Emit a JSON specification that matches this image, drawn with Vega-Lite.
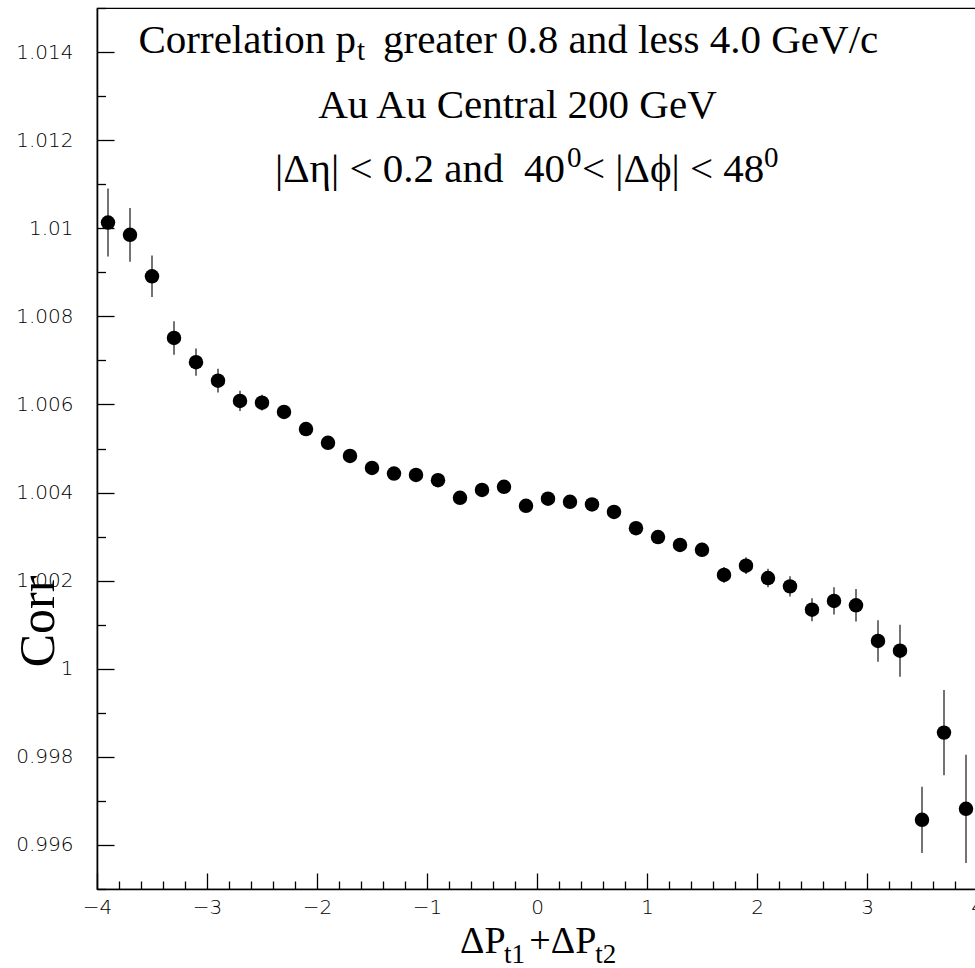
{
  "$schema": "https://vega.github.io/schema/vega-lite/v6.json",
  "autosize": {"type": "none"},
  "padding": {"left": 97, "top": 8, "right": 0, "bottom": 79},
  "width": 880,
  "height": 881,
  "background": "white",
  "config": {
    "view": {"stroke": "black", "strokeWidth": 1.2},
    "axis": {"grid": false}
  },
  "datasets": {
    "corr": [
      {"dpt": -3.9, "corr": 1.01013, "lo": 1.00936, "hi": 1.01090},
      {"dpt": -3.7, "corr": 1.00985, "lo": 1.00924, "hi": 1.01046},
      {"dpt": -3.5, "corr": 1.00891, "lo": 1.00844, "hi": 1.00938},
      {"dpt": -3.3, "corr": 1.00751, "lo": 1.00713, "hi": 1.00789},
      {"dpt": -3.1, "corr": 1.00696, "lo": 1.00665, "hi": 1.00727},
      {"dpt": -2.9, "corr": 1.00654, "lo": 1.00627, "hi": 1.00681},
      {"dpt": -2.7, "corr": 1.00608, "lo": 1.00585, "hi": 1.00631},
      {"dpt": -2.5, "corr": 1.00604, "lo": 1.00586, "hi": 1.00622},
      {"dpt": -2.3, "corr": 1.00583, "lo": 1.00567, "hi": 1.00599},
      {"dpt": -2.1, "corr": 1.00544, "lo": 1.00529, "hi": 1.00559},
      {"dpt": -1.9, "corr": 1.00513, "lo": 1.00499, "hi": 1.00527},
      {"dpt": -1.7, "corr": 1.00483, "lo": 1.00470, "hi": 1.00496},
      {"dpt": -1.5, "corr": 1.00456, "lo": 1.00444, "hi": 1.00468},
      {"dpt": -1.3, "corr": 1.00443, "lo": 1.00431, "hi": 1.00455},
      {"dpt": -1.1, "corr": 1.00440, "lo": 1.00429, "hi": 1.00451},
      {"dpt": -0.9, "corr": 1.00428, "lo": 1.00417, "hi": 1.00439},
      {"dpt": -0.7, "corr": 1.00388, "lo": 1.00377, "hi": 1.00399},
      {"dpt": -0.5, "corr": 1.00406, "lo": 1.00395, "hi": 1.00417},
      {"dpt": -0.3, "corr": 1.00413, "lo": 1.00402, "hi": 1.00424},
      {"dpt": -0.1, "corr": 1.00370, "lo": 1.00359, "hi": 1.00381},
      {"dpt": 0.1, "corr": 1.00386, "lo": 1.00375, "hi": 1.00397},
      {"dpt": 0.3, "corr": 1.00379, "lo": 1.00368, "hi": 1.00390},
      {"dpt": 0.5, "corr": 1.00373, "lo": 1.00361, "hi": 1.00385},
      {"dpt": 0.7, "corr": 1.00356, "lo": 1.00344, "hi": 1.00368},
      {"dpt": 0.9, "corr": 1.00319, "lo": 1.00306, "hi": 1.00332},
      {"dpt": 1.1, "corr": 1.00299, "lo": 1.00285, "hi": 1.00313},
      {"dpt": 1.3, "corr": 1.00281, "lo": 1.00266, "hi": 1.00296},
      {"dpt": 1.5, "corr": 1.00270, "lo": 1.00254, "hi": 1.00286},
      {"dpt": 1.7, "corr": 1.00213, "lo": 1.00195, "hi": 1.00231},
      {"dpt": 1.9, "corr": 1.00234, "lo": 1.00215, "hi": 1.00253},
      {"dpt": 2.1, "corr": 1.00206, "lo": 1.00185, "hi": 1.00227},
      {"dpt": 2.3, "corr": 1.00187, "lo": 1.00164, "hi": 1.00210},
      {"dpt": 2.5, "corr": 1.00134, "lo": 1.00108, "hi": 1.00160},
      {"dpt": 2.7, "corr": 1.00154, "lo": 1.00123, "hi": 1.00185},
      {"dpt": 2.9, "corr": 1.00144, "lo": 1.00107, "hi": 1.00181},
      {"dpt": 3.1, "corr": 1.00063, "lo": 1.00016, "hi": 1.00110},
      {"dpt": 3.3, "corr": 1.00041, "lo": 0.99982, "hi": 1.00100},
      {"dpt": 3.5, "corr": 0.99657, "lo": 0.99582, "hi": 0.99732},
      {"dpt": 3.7, "corr": 0.99855, "lo": 0.99758, "hi": 0.99952},
      {"dpt": 3.9, "corr": 0.99682, "lo": 0.99559, "hi": 0.99805}
    ]
  },
  "resolve": {"axis": {"x": "independent", "y": "independent"}},
  "layer": [
    {
      "data": {"name": "corr"},
      "mark": {"type": "rule", "color": "#444444", "strokeWidth": 1.5},
      "encoding": {
        "x": {
          "field": "dpt", "type": "quantitative",
          "scale": {"domain": [-4, 4], "nice": false, "zero": false},
          "axis": {
            "orient": "bottom", "title": null, "labels": false, "domain": false, "grid": false,
            "values": [-4, -3.8, -3.6, -3.4, -3.2, -3, -2.8, -2.6, -2.4, -2.2, -2, -1.8, -1.6, -1.4, -1.2, -1, -0.8, -0.6, -0.4, -0.2, 0, 0.2, 0.4, 0.6, 0.8, 1, 1.2, 1.4, 1.6, 1.8, 2, 2.2, 2.4, 2.6, 2.8, 3, 3.2, 3.4, 3.6, 3.8, 4],
            "ticks": true, "tickColor": "black", "tickWidth": 1.3,
            "tickSize": {"condition": {"test": "abs(datum.value - round(datum.value)) < 0.001", "value": -16}, "value": -8}
          }
        },
        "y": {
          "field": "lo", "type": "quantitative",
          "scale": {"domain": [0.995, 1.015], "nice": false, "zero": false},
          "axis": {
            "orient": "left", "title": null, "labels": false, "domain": false, "grid": false,
            "values": [0.995, 0.996, 0.997, 0.998, 0.999, 1.0, 1.001, 1.002, 1.003, 1.004, 1.005, 1.006, 1.007, 1.008, 1.009, 1.01, 1.011, 1.012, 1.013, 1.014, 1.015],
            "ticks": true, "tickColor": "black", "tickWidth": 1.3,
            "tickSize": {"condition": {"test": "abs(datum.value * 500 - round(datum.value * 500)) < 0.01", "value": -17}, "value": -8.5}
          }
        },
        "y2": {"field": "hi"}
      }
    },
    {
      "data": {"name": "corr"},
      "mark": {"type": "circle", "color": "black", "opacity": 1, "size": 210},
      "encoding": {
        "x": {
          "field": "dpt", "type": "quantitative",
          "scale": {"domain": [-4, 4], "nice": false, "zero": false},
          "axis": {
            "orient": "bottom", "grid": false, "ticks": false,
            "values": [-4, -3, -2, -1, 0, 1, 2, 3, 4], "format": "~g",
            "domain": true, "domainColor": "black", "domainWidth": 1.6,
            "labelFont": "DejaVu Sans", "labelFontWeight": 300, "labelFontSize": 20, "labelColor": "black",
            "labelPadding": 8, "labelFlush": false, "labelOverlap": false,
            "title": null
          }
        },
        "y": {
          "field": "corr", "type": "quantitative",
          "scale": {"domain": [0.995, 1.015], "nice": false, "zero": false},
          "axis": {
            "orient": "left", "grid": false, "ticks": false,
            "values": [0.996, 0.998, 1.0, 1.002, 1.004, 1.006, 1.008, 1.01, 1.012, 1.014], "format": "~g",
            "domain": true, "domainColor": "black", "domainWidth": 1.6,
            "labelFont": "DejaVu Sans", "labelFontWeight": 300, "labelFontSize": 20, "labelColor": "black",
            "labelPadding": 24, "labelFlush": false, "labelOverlap": false,
            "title": "Corr", "titleFont": "Liberation Serif", "titleFontSize": 50, "titleFontWeight": "normal",
            "titleColor": "black", "titleAngle": 270, "titleAlign": "center", "titleBaseline": "alphabetic",
            "titleX": -44, "titleY": 613
          }
        }
      }
    },
    {
      "data": {"values": [{}]},
      "mark": {"type": "text", "font": "Liberation Serif", "fontSize": 41, "align": "right", "baseline": "alphabetic", "color": "black"},
      "encoding": {
        "x": {"datum": -1.6455, "type": "quantitative", "axis": null, "scale": {"domain": [-4, 4], "nice": false, "zero": false}},
        "y": {"datum": 1.013977, "type": "quantitative", "axis": null, "scale": {"domain": [0.995, 1.015], "nice": false, "zero": false}},
        "text": {"value": "Correlation p"}
      }
    },
    {
      "data": {"values": [{}]},
      "mark": {"type": "text", "font": "Liberation Serif", "fontSize": 29, "align": "left", "baseline": "alphabetic", "color": "black"},
      "encoding": {
        "x": {"datum": -1.6364, "type": "quantitative", "axis": null, "scale": {"domain": [-4, 4], "nice": false, "zero": false}},
        "y": {"datum": 1.013825, "type": "quantitative", "axis": null, "scale": {"domain": [0.995, 1.015], "nice": false, "zero": false}},
        "text": {"value": "t"}
      }
    },
    {
      "data": {"values": [{}]},
      "mark": {"type": "text", "font": "Liberation Serif", "fontSize": 41, "align": "left", "baseline": "alphabetic", "color": "black"},
      "encoding": {
        "x": {"datum": -1.4, "type": "quantitative", "axis": null, "scale": {"domain": [-4, 4], "nice": false, "zero": false}},
        "y": {"datum": 1.013977, "type": "quantitative", "axis": null, "scale": {"domain": [0.995, 1.015], "nice": false, "zero": false}},
        "text": {"value": "greater 0.8 and less 4.0 GeV/c"}
      }
    },
    {
      "data": {"values": [{}]},
      "mark": {"type": "text", "font": "Liberation Serif", "fontSize": 41, "align": "center", "baseline": "alphabetic", "color": "black"},
      "encoding": {
        "x": {"datum": -0.1773, "type": "quantitative", "axis": null, "scale": {"domain": [-4, 4], "nice": false, "zero": false}},
        "y": {"datum": 1.012508, "type": "quantitative", "axis": null, "scale": {"domain": [0.995, 1.015], "nice": false, "zero": false}},
        "text": {"value": "Au Au Central 200 GeV"}
      }
    },
    {
      "data": {"values": [{}]},
      "mark": {"type": "text", "font": "Liberation Serif", "fontSize": 41, "align": "left", "baseline": "alphabetic", "color": "black"},
      "encoding": {
        "x": {"datum": -2.3818, "type": "quantitative", "axis": null, "scale": {"domain": [-4, 4], "nice": false, "zero": false}},
        "y": {"datum": 1.011056, "type": "quantitative", "axis": null, "scale": {"domain": [0.995, 1.015], "nice": false, "zero": false}},
        "text": {"value": "|Δη| < 0.2 and \u00a040"}
      }
    },
    {
      "data": {"values": [{}]},
      "mark": {"type": "text", "font": "Liberation Serif", "fontSize": 29, "align": "left", "baseline": "alphabetic", "color": "black"},
      "encoding": {
        "x": {"datum": 0.2727, "type": "quantitative", "axis": null, "scale": {"domain": [-4, 4], "nice": false, "zero": false}},
        "y": {"datum": 1.011396, "type": "quantitative", "axis": null, "scale": {"domain": [0.995, 1.015], "nice": false, "zero": false}},
        "text": {"value": "0"}
      }
    },
    {
      "data": {"values": [{}]},
      "mark": {"type": "text", "font": "Liberation Serif", "fontSize": 41, "align": "left", "baseline": "alphabetic", "color": "black"},
      "encoding": {
        "x": {"datum": 0.4091, "type": "quantitative", "axis": null, "scale": {"domain": [-4, 4], "nice": false, "zero": false}},
        "y": {"datum": 1.011056, "type": "quantitative", "axis": null, "scale": {"domain": [0.995, 1.015], "nice": false, "zero": false}},
        "text": {"value": "< |Δϕ| < 48"}
      }
    },
    {
      "data": {"values": [{}]},
      "mark": {"type": "text", "font": "Liberation Serif", "fontSize": 29, "align": "left", "baseline": "alphabetic", "color": "black"},
      "encoding": {
        "x": {"datum": 2.0636, "type": "quantitative", "axis": null, "scale": {"domain": [-4, 4], "nice": false, "zero": false}},
        "y": {"datum": 1.011396, "type": "quantitative", "axis": null, "scale": {"domain": [0.995, 1.015], "nice": false, "zero": false}},
        "text": {"value": "0"}
      }
    },
    {
      "data": {"values": [{}]},
      "mark": {"type": "text", "font": "Liberation Serif", "fontSize": 38, "align": "left", "baseline": "alphabetic", "color": "black"},
      "encoding": {
        "x": {"datum": -0.7, "type": "quantitative", "axis": null, "scale": {"domain": [-4, 4], "nice": false, "zero": false}},
        "y": {"datum": 0.993553, "type": "quantitative", "axis": null, "scale": {"domain": [0.995, 1.015], "nice": false, "zero": false}},
        "text": {"value": "ΔP"}
      }
    },
    {
      "data": {"values": [{}]},
      "mark": {"type": "text", "font": "Liberation Serif", "fontSize": 27, "align": "left", "baseline": "alphabetic", "color": "black"},
      "encoding": {
        "x": {"datum": -0.3, "type": "quantitative", "axis": null, "scale": {"domain": [-4, 4], "nice": false, "zero": false}},
        "y": {"datum": 0.99331, "type": "quantitative", "axis": null, "scale": {"domain": [0.995, 1.015], "nice": false, "zero": false}},
        "text": {"value": "t1"}
      }
    },
    {
      "data": {"values": [{}]},
      "mark": {"type": "text", "font": "Liberation Serif", "fontSize": 38, "align": "left", "baseline": "alphabetic", "color": "black"},
      "encoding": {
        "x": {"datum": -0.07, "type": "quantitative", "axis": null, "scale": {"domain": [-4, 4], "nice": false, "zero": false}},
        "y": {"datum": 0.993553, "type": "quantitative", "axis": null, "scale": {"domain": [0.995, 1.015], "nice": false, "zero": false}},
        "text": {"value": "+ΔP"}
      }
    },
    {
      "data": {"values": [{}]},
      "mark": {"type": "text", "font": "Liberation Serif", "fontSize": 27, "align": "left", "baseline": "alphabetic", "color": "black"},
      "encoding": {
        "x": {"datum": 0.53, "type": "quantitative", "axis": null, "scale": {"domain": [-4, 4], "nice": false, "zero": false}},
        "y": {"datum": 0.99331, "type": "quantitative", "axis": null, "scale": {"domain": [0.995, 1.015], "nice": false, "zero": false}},
        "text": {"value": "t2"}
      }
    }
  ]
}
